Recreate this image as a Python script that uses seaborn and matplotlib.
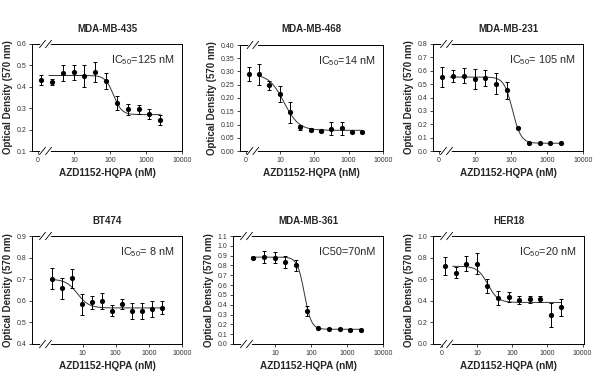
import numpy as np
import pandas as pd
import matplotlib
matplotlib.use("Agg")
import matplotlib.pyplot as plt
from matplotlib.ticker import NullLocator
import seaborn as sns

# concentrations (nM), 2-fold dilution series
conc = [1.22, 2.44, 4.88, 9.77, 19.5, 39.1, 78.1, 156, 312, 625, 1250, 2500]

od_435 = [0.433, 0.422, 0.466, 0.469, 0.450, 0.468, 0.427, 0.325, 0.294, 0.294, 0.273, 0.244]
err_435 = [0.023, 0.015, 0.037, 0.035, 0.050, 0.047, 0.038, 0.033, 0.024, 0.022, 0.023, 0.022]
fit_435 = (0.453, 0.270, 125, 3.8)

od_468 = [0.291, 0.289, 0.248, 0.216, 0.146, 0.090, 0.081, 0.077, 0.084, 0.085, 0.072, 0.071]
err_468 = [0.027, 0.039, 0.018, 0.030, 0.040, 0.010, 0.007, 0.005, 0.024, 0.024, 0.004, 0.004]
fit_468 = (0.290, 0.078, 13, 2.0)

od_231 = [0.555, 0.558, 0.563, 0.538, 0.545, 0.503, 0.455, 0.175, 0.058, 0.058, 0.058, 0.058]
err_231 = [0.073, 0.044, 0.054, 0.078, 0.061, 0.078, 0.063, 0.006, 0.005, 0.005, 0.005, 0.005]
fit_231 = (0.553, 0.058, 110, 3.7)

od_bt474 = [0.703, 0.658, 0.704, 0.583, 0.593, 0.599, 0.555, 0.586, 0.551, 0.551, 0.561, 0.567]
err_bt474 = [0.049, 0.048, 0.045, 0.048, 0.030, 0.036, 0.024, 0.022, 0.037, 0.037, 0.037, 0.030]
fit_bt474 = (0.700, 0.567, 7, 2.5)

conc_361 = conc[1:]
od_361 = [0.875, 0.890, 0.880, 0.833, 0.800, 0.336, 0.158, 0.155, 0.155, 0.143, 0.140]
err_361 = [0.012, 0.060, 0.055, 0.060, 0.055, 0.050, 0.008, 0.006, 0.006, 0.006, 0.006]
fit_361 = (0.885, 0.150, 65, 4.5)

od_her18 = [0.722, 0.660, 0.745, 0.745, 0.536, 0.426, 0.435, 0.407, 0.416, 0.416, 0.268, 0.338]
err_her18 = [0.080, 0.052, 0.066, 0.095, 0.065, 0.066, 0.044, 0.033, 0.032, 0.030, 0.110, 0.080]
fit_her18 = (0.720, 0.385, 20, 3.0)

titles = ["MDA-MB-435", "MDA-MB-468", "MDA-MB-231", "BT474", "MDA-MB-361", "HER18"]
ic50_labels = [r"IC$_{50}$=125 nM", r"IC$_{50}$=14 nM", r"IC$_{50}$= 105 nM",
               r"IC$_{50}$= 8 nM", "IC50=70nM", r"IC$_{50}$=20 nM"]

xt_zero = [1, 10, 100, 1000, 10000]
xtl_zero = ["0", "10", "100", "1000", "10000"]
xt_plain = [10, 100, 1000, 10000]
xtl_plain = ["10", "100", "1000", "10000"]

sns.set_theme(style="ticks")
plt.rcParams["font.family"] = ["Liberation Sans", "DejaVu Sans"]
plt.rcParams["mathtext.fontset"] = "custom"
plt.rcParams["mathtext.rm"] = "Liberation Sans"
plt.rcParams["mathtext.it"] = "Liberation Sans:italic"
plt.rcParams["mathtext.bf"] = "Liberation Sans:bold"


def logistic(x, top, bottom, ic50, hill):
    return bottom + (top - bottom) / (1 + (x / ic50) ** hill)


# (data x, od, err, fit, curve start, xlim, ylim, yticks, ytick fmt, xticks, xticklabels)
panels = [
    (conc, od_435, err_435, fit_435, 2.0, (0.68, 10000), (0.1, 0.6), np.arange(0.1, 0.61, 0.1), "%.1f", xt_zero, xtl_zero),
    (conc, od_468, err_468, fit_468, 2.44, (0.68, 10000), (0.0, 0.4), np.arange(0, 0.41, 0.05), "%.2f", xt_zero, xtl_zero),
    (conc, od_231, err_231, fit_231, 2.0, (0.68, 10000), (0.0, 0.8), np.arange(0, 0.81, 0.1), "%.1f", xt_zero, xtl_zero),
    (conc, od_bt474, err_bt474, fit_bt474, 1.22, (0.3, 10000), (0.4, 0.9), np.arange(0.4, 0.91, 0.1), "%.1f", xt_plain, xtl_plain),
    (conc_361, od_361, err_361, fit_361, 2.2, (0.68, 10000), (0.0, 1.1), np.arange(0, 1.11, 0.1), "%.1f", xt_plain, xtl_plain),
    (conc, od_her18, err_her18, fit_her18, 2.0, (0.55, 11000), (0.0, 1.0), np.arange(0, 1.01, 0.2), "%.1f", xt_zero, xtl_zero),
]

# axes boxes in pixels (left, top, width, height)
boxes = [(32, 44, 150, 107), (240, 45, 143, 106), (433, 44, 150, 107),
         (32, 236, 150, 108), (233, 236, 150, 108), (433, 236, 151, 108)]

fig = plt.figure(figsize=(6, 3.8), dpi=100)

for i, (box, p) in enumerate(zip(boxes, panels)):
    x, y, err, fit, cstart, xlim, ylim, yt, yfmt, xt, xtl = p
    l, t, w, h = box
    ax = fig.add_axes([l / 600, 1 - (t + h) / 380, w / 600, h / 380])
    ax.set_xscale("log")

    cx = np.logspace(np.log10(cstart), np.log10(2500), 200)
    sns.lineplot(x=cx, y=logistic(cx, *fit), ax=ax, color="#333333", lw=0.7)
    ax.errorbar(x, y, yerr=err, fmt="none", ecolor="black", elinewidth=0.7,
                capsize=1.6, capthick=0.7, zorder=2)
    df = pd.DataFrame({"conc": x, "od": y})
    sns.scatterplot(data=df, x="conc", y="od", ax=ax, color="black", s=14,
                    linewidth=0, zorder=3)

    ax.set_xlim(*xlim)
    ax.set_ylim(*ylim)
    ax.set_xticks(xt)
    ax.set_xticklabels(xtl)
    ax.xaxis.set_minor_locator(NullLocator())
    ax.set_yticks(yt)
    ax.set_yticklabels([yfmt % v for v in yt])
    ax.tick_params(axis="both", labelsize=5, length=2.5, width=0.6, pad=1.5,
                   labelcolor="#333333", direction="out")
    for s in ax.spines.values():
        s.set_linewidth(0.7)
        s.set_color("black")

    ax.set_title(titles[i], fontsize=7, fontweight="bold", pad=9)
    ax.set_xlabel("AZD1152-HQPA (nM)", fontsize=7.2, fontweight="bold", labelpad=3)
    ax.set_ylabel("Optical Density (570 nm)", fontsize=7, fontweight="bold", labelpad=2.5)
    ax.text(0.95, 0.85, ic50_labels[i], transform=ax.transAxes, ha="right",
            va="center", fontsize=7.8)

    # axis break marks on top and bottom spines
    for yy in (0, 1):
        ax.plot([0.06, 0.12], [yy, yy], transform=ax.transAxes, color="white",
                lw=1.6, clip_on=False, zorder=5)
        for xc in (0.07, 0.11):
            ax.plot([xc - 0.02, xc + 0.02], [yy - 0.035, yy + 0.035],
                    transform=ax.transAxes, color="black", lw=0.6,
                    clip_on=False, zorder=6)

fig.savefig("out.png", dpi=100)
